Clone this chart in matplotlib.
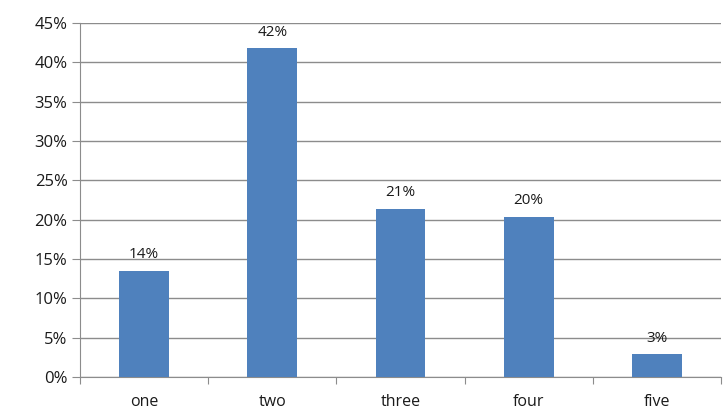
import numpy as np
import matplotlib.pyplot as plt
from matplotlib.ticker import FuncFormatter

categories = ["one", "two", "three", "four", "five"]
shares = [13.5, 41.8, 21.4, 20.4, 2.9]
labels = ["14%", "42%", "21%", "20%", "3%"]

plt.rcParams['font.family'] = ['Open Sans', 'DejaVu Sans']

fig = plt.figure(figsize=(7.26, 4.15), dpi=100)
ax = fig.add_axes([80/726, 1 - 377/415, 641/726, (377 - 23)/415])

x = np.arange(len(categories))
bars = ax.bar(x, shares, width=0.39, color="#4F81BD", zorder=3)

for b, lab in zip(bars, labels):
    ax.annotate(lab, (b.get_x() + b.get_width()/2, b.get_height()),
                xytext=(0, 6), textcoords="offset points",
                ha="center", va="bottom", fontsize=11, color="#1a1a1a")

ax.set_xlim(-0.5, len(categories) - 0.5)
ax.set_ylim(0, 45)
ax.set_yticks(np.arange(0, 46, 5))
ax.yaxis.set_major_formatter(FuncFormatter(lambda v, p: "%d%%" % v))
ax.grid(axis="y", color="#8c8c8c", linewidth=1, zorder=0)

# category labels centred, ticks on the boundaries
ax.set_xticks(np.arange(-0.5, len(categories)), minor=False)
ax.set_xticklabels([])
ax.set_xticks(x, minor=True)
ax.set_xticklabels(categories, minor=True, fontsize=11.5, color="#1a1a1a")
ax.tick_params(axis="x", which="minor", length=0, pad=12)
ax.tick_params(axis="x", which="major", length=5, color="#8c8c8c")
ax.tick_params(axis="y", length=6, color="#8c8c8c", labelsize=12,
               labelcolor="#1a1a1a", pad=3)

for s in ["top", "right"]:
    ax.spines[s].set_visible(False)
for s in ["left", "bottom"]:
    ax.spines[s].set_color("#8c8c8c")

fig.savefig("out.png", dpi=100)
